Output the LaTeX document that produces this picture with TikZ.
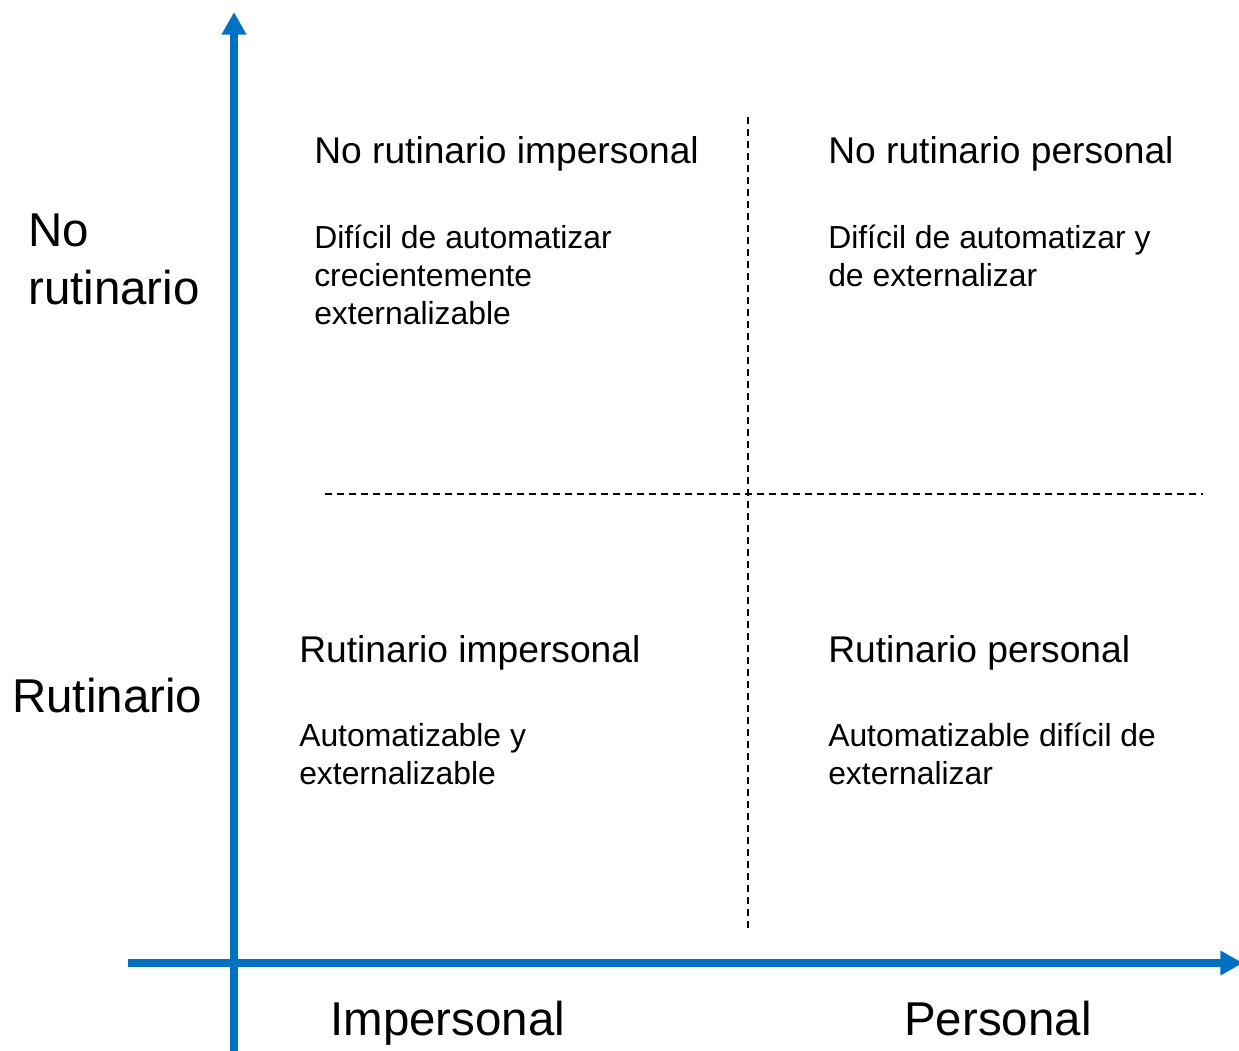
\documentclass[tikz,border=0pt]{standalone}
\usepackage{fontspec}
\setmainfont{Liberation Sans}
\usetikzlibrary{arrows.meta}
\definecolor{axisblue}{RGB}{0,112,192}
\tikzset{
  axis/.style={line width=6pt, color=axisblue, -{Triangle[length=17pt,width=17.5pt]}},
  divider/.style={line width=1.5pt, dash pattern=on 5.25pt off 3.75pt},
  title/.style={anchor=base west, inner sep=0pt, font=\fontsize{27.9}{33.5}\selectfont},
  desc/.style={anchor=base west, inner sep=0pt, align=left, font=\fontsize{23.9}{28.5}\selectfont},
  axislabel/.style={anchor=base west, inner sep=0pt, align=left, font=\fontsize{35.6}{42.8}\selectfont}
}
\begin{document}
\begin{tikzpicture}[x=0.75pt,y=0.75pt,yscale=-1,xscale=1]
    \useasboundingbox (0,0) rectangle (1239,1050);
    \clip (0,0) rectangle (1239,1050);

    %Axes
    \coordinate (ybottom) at (234,1056);
    \coordinate (ytop) at (234,12);
    \coordinate (xleft) at (128,963);
    \coordinate (xright) at (1243,963);
    \draw [axis] (ybottom) -- (ytop);
    \draw [axis] (xleft) -- (xright);

    %Dividers
    \coordinate (vtop) at (748,117);
    \coordinate (vbottom) at (748,932);
    \coordinate (hleft) at (325,494);
    \coordinate (hright) at (1203,494);
    \draw [divider] (vtop) -- (vbottom);
    \draw [divider] (hleft) -- (hright);

    %Axis labels (multi-line nodes sit on their last line)
    \node [axislabel] (norut) at (28,304) {No\\rutinario};
    \node [axislabel] (rut) at (12,712) {Rutinario};
    \node [axislabel] (imp) at (330,1035) {Impersonal};
    \node [axislabel] (pers) at (904,1035) {Personal};

    %Quadrants
    \node [title] (nrimp) at (314,163) {No rutinario impersonal};
    \node [desc] (nrimpdesc) at (314,324) {Difícil de automatizar\\crecientemente\\externalizable};
    \node [title] (nrpers) at (828,163) {No rutinario personal};
    \node [desc] (nrpersdesc) at (828,286) {Difícil de automatizar y\\de externalizar};
    \node [title] (rimp) at (299,662) {Rutinario impersonal};
    \node [desc] (rimpdesc) at (299,784) {Automatizable y\\externalizable};
    \node [title] (rpers) at (828,662) {Rutinario personal};
    \node [desc] (rpersdesc) at (828,784) {Automatizable difícil de\\externalizar};
\end{tikzpicture}
\end{document}
